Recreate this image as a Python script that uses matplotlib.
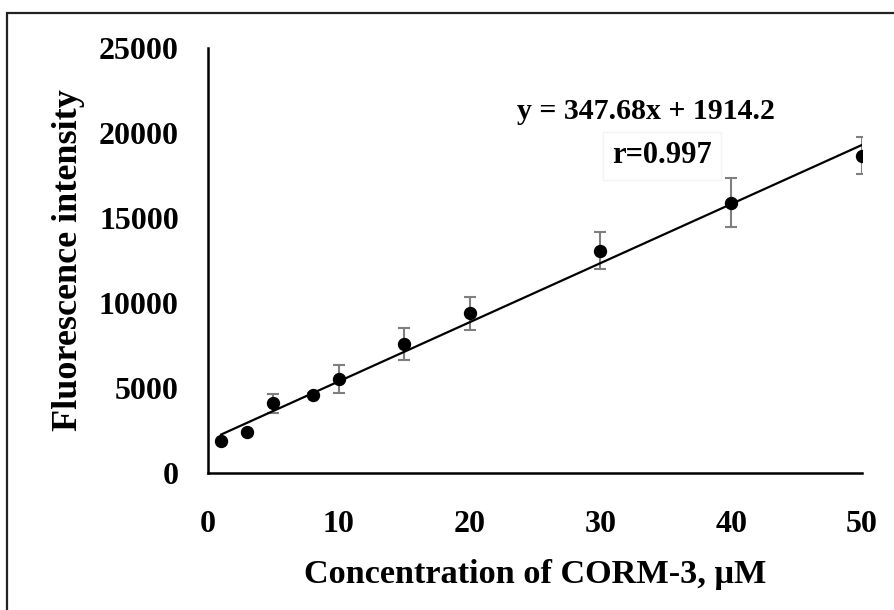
import matplotlib.pyplot as plt
from matplotlib.patches import Rectangle
import numpy as np

concentration = np.array([1, 3, 5, 8, 10, 15, 20, 30, 40, 50])
intensity = np.array([1880, 2420, 4100, 4590, 5530, 7570, 9390, 13080, 15900, 18660])
error = np.array([0, 0, 560, 120, 830, 950, 970, 1100, 1440, 1090])

slope = 347.68
intercept = 1914.2
r_value = 0.997

plt.rcParams['font.family'] = 'Liberation Serif'
plt.rcParams['font.weight'] = 'bold'
plt.rcParams['axes.labelweight'] = 'bold'

fig = plt.figure(figsize=(8.94, 6.10), dpi=100)
ax = fig.add_axes([0.2327, 0.2246, 0.7315, 0.6967])

# outer frame of the picture (cut off at right and bottom)
fig.patches.append(Rectangle((7 / 894, -0.05), 1.2, 1 - 13 / 610 + 0.05,
                             transform=fig.transFigure, fill=False,
                             edgecolor='#222222', linewidth=1.6))

ax.errorbar(concentration, intensity, yerr=error, fmt='none', ecolor='#7f7f7f',
            elinewidth=1.5, capsize=4.3, capthick=1.5, zorder=2)
ax.plot(concentration, intensity, 'o', color='black', markersize=8.6, zorder=3)

x_fit = np.array([concentration.min(), concentration.max()])
ax.plot(x_fit, slope * x_fit + intercept, color='black', linewidth=1.6, zorder=2)

ax.set_xlim(0, 50)
ax.set_ylim(0, 25000)
ax.set_xticks([0, 10, 20, 30, 40, 50])
ax.set_yticks([0, 5000, 10000, 15000, 20000, 25000])
ax.tick_params(axis='both', length=0, labelsize=23)
ax.tick_params(axis='x', pad=27)
ax.tick_params(axis='y', pad=21)

for side in ['top', 'right']:
    ax.spines[side].set_visible(False)
for side in ['left', 'bottom']:
    ax.spines[side].set_linewidth(1.8)

ax.set_xlabel('Concentration of CORM-3, μM', fontsize=24.7, fontweight='bold', labelpad=14)
ax.set_ylabel('Fluorescence intensity', fontsize=26, fontweight='bold', labelpad=10)

ax.text(33.5, 21250, f'y = {slope}x + {intercept}', fontsize=21.5,
        fontweight='bold', ha='center', va='center')
ax.text(34.7, 18650, f'r={r_value}', fontsize=22, fontweight='bold',
        ha='center', va='center',
        bbox=dict(boxstyle='square,pad=0.3', facecolor='white', edgecolor='#f4f4f4'))

fig.savefig('out.png', dpi=100)
